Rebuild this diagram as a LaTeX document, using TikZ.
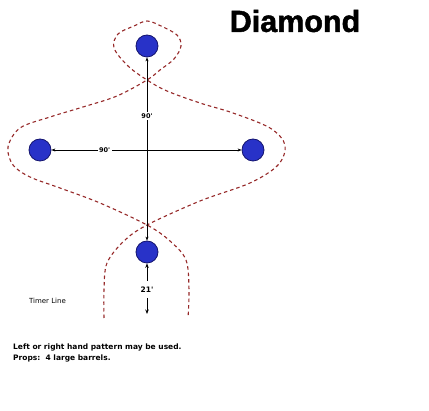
\documentclass[tikz,border=0pt]{standalone}
\usepackage{fontspec}
\setmainfont{Liberation Sans}
\newfontfamily\heavy[FakeBold=1.6]{Liberation Sans Bold}
\newfontfamily\verd{DejaVu Sans}
\usetikzlibrary{arrows.meta}
\definecolor{barrelblue}{RGB}{40,50,200}
\definecolor{barreledge}{RGB}{20,20,110}
\definecolor{pathred}{RGB}{150,40,40}
\tikzset{
  barrel/.style={circle, fill=barrelblue, draw=barreledge, line width=0.8pt, minimum size=22pt, inner sep=0pt},
  meas/.style={line width=0.7pt, {Stealth[length=4pt,width=3pt]}-{Stealth[length=4pt,width=3pt]}},
  onearrow/.style={line width=0.9pt, -{Stealth[length=4.5pt,width=3.5pt]}},
  lbl/.style={font=\verd\bfseries\fontsize{6.5}{8}\selectfont, fill=white, inner sep=1.5pt},
  runpath/.style={draw=pathred, line width=1.1pt, dash pattern=on 3.5pt off 3pt},
  note/.style={font=\verd\bfseries\fontsize{7.5}{9}\selectfont, anchor=west, inner sep=0pt}
}
\begin{document}
\begin{tikzpicture}[x=1pt,y=-1pt]
\useasboundingbox[fill=white] (0,0) rectangle (429,411);
% run path
\draw[runpath] plot[smooth, tension=0.55] coordinates {
 (104,318) (104,290) (107,263) (124,241) (147,225) (200,201) (250,183) (278,165) (285,145)
 (270,128) (233,113) (200,103) (167,91) (147,80) (128,66) (114,48) (118,34) (134,26) (147,21)
 (161,26) (177,35) (181,46) (174,59) (160,70) (147,80) (117,96) (83,107) (50,117) (20,128)
 (8,147) (13,165) (30,177) (60,188) (100,203) (147,225) (170,241) (186,260) (189,290) (188,318)};
% barrels
\node[barrel] (T) at (147,46) {};
\node[barrel] (L) at (40,150) {};
\node[barrel] (R) at (253,150) {};
\node[barrel] (B) at (147,252) {};
% measurements
\draw[meas] (L) -- node[lbl, pos=0.28] {90'} (R);
\draw[meas] (B) -- node[lbl, pos=0.68] {90'} (T);
\node[font=\verd\bfseries\fontsize{7.5}{9}\selectfont, inner sep=1pt] (d21) at (147,290) {21'};
\coordinate (tl) at (147,314);
\draw[onearrow] (147,281) -- (B);
\draw[onearrow] (147,298) -- (tl);
% texts
\node[font=\heavy\fontsize{30.5}{33}\selectfont] (title) at (295,21) {Diamond};
\node[font=\verd\fontsize{7}{8}\selectfont] (timer) at (47.5,301) {Timer Line};
\node[note] (n1) at (13,347) {Left or right hand pattern may be used.};
\node[note] (n2) at (13,358) {Props:\ \ 4 large barrels.};
\end{tikzpicture}
\end{document}
